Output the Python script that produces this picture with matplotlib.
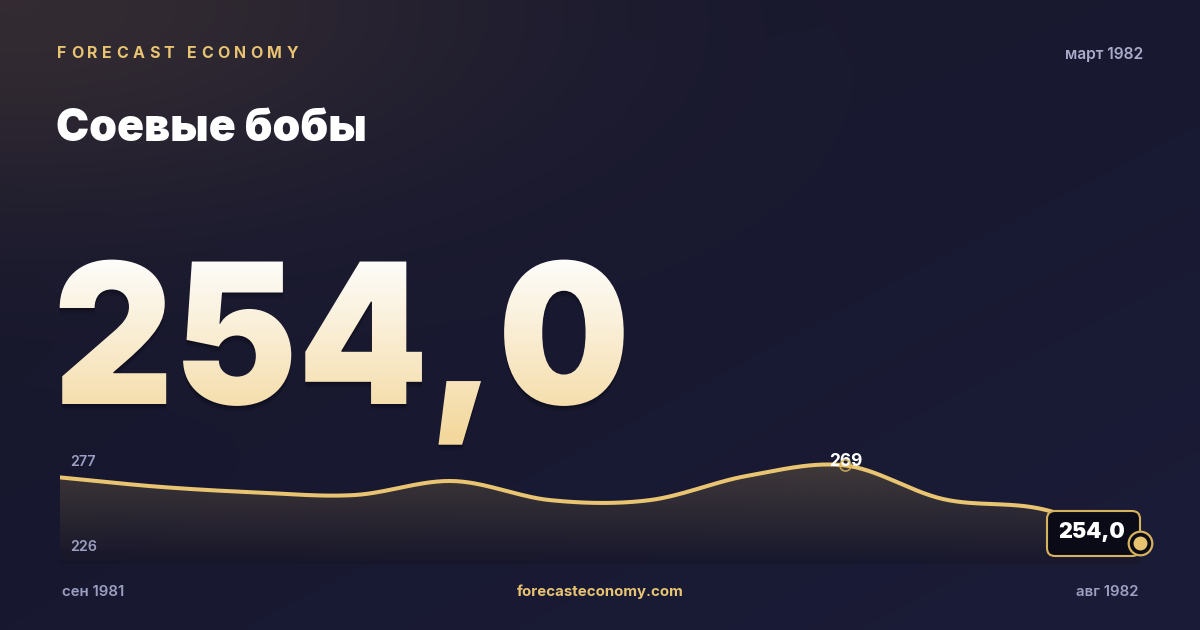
import numpy as np
import matplotlib
matplotlib.use('Agg')
import matplotlib.pyplot as plt
from matplotlib.colors import to_rgb
from matplotlib.patches import Polygon, FancyBboxPatch
from matplotlib.patheffects import AbstractPathEffect
from matplotlib.transforms import Bbox, Affine2D
from matplotlib.textpath import TextToPath
from matplotlib.font_manager import FontProperties

#  ----------------------- DATA ----------------------------------

months = ['сен 1981', 'окт 1981', 'ноя 1981', 'дек 1981', 'янв 1982', 'фев 1982',
          'мар 1982', 'апр 1982', 'май 1982', 'июн 1982', 'июл 1982', 'авг 1982']
values = [266.7, 264.9, 263.8, 263.3, 266.0, 262.3,
          262.3, 267.0, 269.0, 262.5, 260.6, 254.0]

current_label = '254,0'
scale_top_label = '277'
scale_bottom_label = '226'
peak_label = '269'
brand = 'FORECAST ECONOMY'
title = 'Соевые бобы'
report_date = 'март 1982'
site = 'forecasteconomy.com'

#  ----------------------- STYLE ----------------------------------

FONT = ['Inter', 'DejaVu Sans']
GOLD = '#e8c472'
MUTED = '#9d9fc2'
W, H = 1200, 630


class CondensedGradient(AbstractPathEffect):
    """condense a text path to a given ink width, soft drop shadow,
    then fill it with a top -> bottom gradient fixed in figure pixels"""
    def __init__(self, top, bottom, y_top, y_bottom, width,
                 shadows=((2, 0.18), (4, 0.14), (6, 0.10))):
        self.top = np.array(to_rgb(top))
        self.bottom = np.array(to_rgb(bottom))
        self.y_top = y_top
        self.y_bottom = y_bottom
        self.width = width
        self.shadows = shadows

    def draw_path(self, renderer, gc, tpath, affine, rgbFace=None):
        ext = affine.transform_path(tpath).get_extents()
        sx = self.width / ext.width
        aff = affine + Affine2D().translate(-ext.x0, 0).scale(sx, 1).translate(ext.x0, 0)
        ext = aff.transform_path(tpath).get_extents()

        for off, alpha in self.shadows:
            gc2 = renderer.new_gc()
            gc2.copy_properties(gc)
            gc2.set_alpha(alpha)
            renderer.draw_path(gc2, tpath, aff + Affine2D().translate(0, -off), (0.02, 0.02, 0.05))
            gc2.restore()

        hgt = renderer.height
        for yy in range(int(np.floor(ext.y0)), int(np.ceil(ext.y1))):
            ypix = hgt - (yy + 0.5)
            t = np.clip((ypix - self.y_top) / (self.y_bottom - self.y_top), 0, 1)
            col = self.top + (self.bottom - self.top) * t
            gc2 = renderer.new_gc()
            gc2.copy_properties(gc)
            gc2.set_clip_rectangle(Bbox([[ext.x0 - 3, yy], [ext.x1 + 3, yy + 1]]))
            renderer.draw_path(gc2, tpath, aff, tuple(col))
            gc2.restore()


def catmull_rom(xs, ys, steps=30):
    xs = np.asarray(xs, float)
    ys = np.asarray(ys, float)
    n = len(ys)
    m = np.empty(n)
    m[1:-1] = (ys[2:] - ys[:-2]) / 2
    m[0] = ys[1] - ys[0]
    m[-1] = ys[-1] - ys[-2]
    out_x, out_y = [], []
    for i in range(n - 1):
        t = np.linspace(0, 1, steps, endpoint=(i == n - 2))
        h00 = 2 * t**3 - 3 * t**2 + 1
        h10 = t**3 - 2 * t**2 + t
        h01 = -2 * t**3 + 3 * t**2
        h11 = t**3 - t**2
        out_y.append(h00 * ys[i] + h10 * m[i] + h01 * ys[i + 1] + h11 * m[i + 1])
        out_x.append(xs[i] + t * (xs[i + 1] - xs[i]))
    return np.concatenate(out_x), np.concatenate(out_y)


def spaced_text(ax, x, y, s, fp, tracking, **kw):
    # draw a string char by char with extra letter spacing (pixels)
    ttp = TextToPath()
    for ch in s:
        ax.text(x, y, ch, fontproperties=fp, ha='left', **kw)
        w, _, _ = ttp.get_text_width_height_descent(ch, fp, ismath=False)
        x += w * 100 / 72 + tracking
    return x


#  ----------------------- FIGURE / BACKGROUND ----------------------------------

fig = plt.figure(figsize=(12, 6.3), dpi=100)
bg = fig.add_axes([0, 0, 1, 1])
bg.set_xlim(0, W)
bg.set_ylim(H, 0)
bg.axis('off')

yy, xx = np.mgrid[0:H, 0:W]
t = (0.5 * xx / W + 0.5 * yy / H)[..., None]
base = np.array([21, 21, 41]) * (1 - t) + np.array([27, 28, 56]) * t
d = np.hypot(xx / W, 1.25 * yy / H)
glow = np.exp(-(d / 0.42) ** 2)[..., None]
img = base + glow * np.array([30, 22, 8])
bg.imshow(np.clip(img, 0, 255).astype(np.uint8), extent=(0, W, H, 0),
          aspect='auto', zorder=0, interpolation='bilinear')
px = bg.transData

#  ----------------------- HEADER ----------------------------------

brand_fp = FontProperties(family=FONT, weight='bold', size=11.5)
spaced_text(bg, 57, 53, brand, brand_fp, 4.4, color=GOLD, va='center')

bg.text(1143, 55, report_date, family=FONT, weight='semibold', fontsize=11.2,
        color='#a9abc8', ha='right', va='center')

bg.text(56, 141, title, family=FONT, weight='black', fontsize=32,
        color='white', ha='left', va='baseline')

big = bg.text(53, 404, current_label, family=FONT, weight='black', fontsize=141,
              color='#f6e6c0', ha='left', va='baseline', zorder=3)
big.set_path_effects([CondensedGradient('#fdfcf9', '#f3d79c', 262, 438, 564)])

#  ----------------------- SPARKLINE ----------------------------------

ax = fig.add_axes([60 / W, 1 - 564 / H, 1080 / W, 117 / H], zorder=2)
ax.patch.set_alpha(0)
ax.axis('off')
ax.set_xlim(0, len(values) - 1)
y_lo, y_hi = 250.0, 272.56
ax.set_ylim(y_lo, y_hi)

idx = np.arange(len(values))
cx, cy = catmull_rom(idx, values)

grad = np.zeros((128, 2, 4))
grad[..., :3] = to_rgb('#e9c572')
grad[..., 3] = np.linspace(0.24, 0.01, 128)[:, None]
fill_poly = Polygon(np.column_stack([np.r_[cx, cx[-1], cx[0]], np.r_[cy, y_lo, y_lo]]),
                    closed=True, facecolor='#100f1f', edgecolor='none', alpha=0.35, zorder=0.5)
ax.add_patch(fill_poly)
gim = ax.imshow(grad, extent=(0, len(values) - 1, y_lo, y_hi), aspect='auto',
                origin='upper', zorder=1, interpolation='bilinear')
gim.set_clip_path(fill_poly)

ax.plot(cx, cy, color='#e9c572', lw=2.9, solid_capstyle='round', zorder=3)

# peak
pk = int(np.argmax(values))
ax.annotate(peak_label, (pk, values[pk]), xytext=(0, 3), textcoords='offset points',
            ha='center', va='center', family=FONT, weight='bold', fontsize=12.5,
            color='white', zorder=5, annotation_clip=False)
ax.plot(pk, values[pk], 'o', ms=8, mfc='none', mec='#d9b45a', mew=1.2, alpha=0.85,
        zorder=6, clip_on=False)

# scale labels
ax.text(70, 461.5, scale_top_label, transform=px, family=FONT, weight='semibold',
        fontsize=10.3, color=MUTED, ha='left', va='center', zorder=5)
ax.text(70, 547, scale_bottom_label, transform=px, family=FONT, weight='semibold',
        fontsize=10.3, color=MUTED, ha='left', va='center', zorder=5)

# current value badge
badge = FancyBboxPatch((1047, 511), 93, 45, boxstyle='round,pad=0,rounding_size=8',
                       transform=px, facecolor='#0b0b18', edgecolor='#d6b25e',
                       lw=1.5, zorder=7, clip_on=False)
ax.add_patch(badge)
ax.text(1092, 532, current_label, transform=px, family=FONT, weight='black',
        fontsize=15.5, color='white', ha='center', va='center', zorder=8)

ax.plot(len(values) - 1, values[-1], 'o', ms=17, mfc='#0b0b18', mec='#d6b25e',
        mew=1.6, zorder=9, clip_on=False)
ax.plot(len(values) - 1, values[-1], 'o', ms=10, mfc='#e6c36f', mec='none',
        zorder=10, clip_on=False)

#  ----------------------- FOOTER ----------------------------------

bg.text(62, 592, months[0], family=FONT, weight='semibold', fontsize=10.8,
        color=MUTED, ha='left', va='center')
bg.text(1138, 592, months[-1], family=FONT, weight='semibold', fontsize=10.8,
        color=MUTED, ha='right', va='center')
bg.text(600, 592, site, family=FONT, weight='bold', fontsize=10.8,
        color=GOLD, ha='center', va='center')

fig.savefig('out.png', dpi=100)
